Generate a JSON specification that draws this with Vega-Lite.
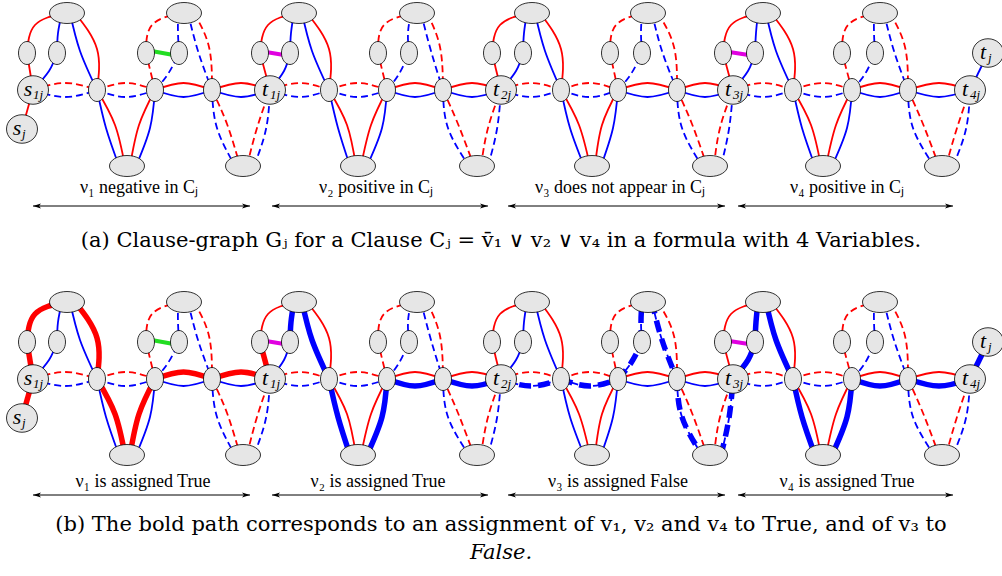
{
"$schema": "https://vega.github.io/schema/vega-lite/v6.json",
"padding": 0,
"spacing": 0,
"background": "white",
"config": {"view": {"stroke": null}},
"datasets": {
"edges": [
{"e":"1-1","c":"r","d":"s","p":1,"o":0,"x":33,"y":89},{"e":"1-1","c":"r","d":"s","p":1,"o":1,"x":27,"y":52},
{"e":"1-2","c":"r","d":"s","p":1,"o":0,"x":27,"y":52},{"e":"1-2","c":"r","d":"s","p":1,"o":1,"x":35,"y":24},{"e":"1-2","c":"r","d":"s","p":1,"o":2,"x":64,"y":12},
{"e":"1-3","c":"b","d":"s","o":0,"x":33,"y":89},{"e":"1-3","c":"b","d":"s","o":1,"x":49,"y":70},{"e":"1-3","c":"b","d":"s","o":2,"x":57,"y":52},
{"e":"1-4","c":"b","d":"s","o":0,"x":57,"y":52},{"e":"1-4","c":"b","d":"s","o":1,"x":58,"y":32},{"e":"1-4","c":"b","d":"s","o":2,"x":62,"y":12},
{"e":"1-5","c":"b","d":"s","o":0,"x":70,"y":12},{"e":"1-5","c":"b","d":"s","o":1,"x":80,"y":50},{"e":"1-5","c":"b","d":"s","o":2,"x":97,"y":89},
{"e":"1-6","c":"r","d":"s","p":1,"o":0,"x":75,"y":12},{"e":"1-6","c":"r","d":"s","p":1,"o":1,"x":97,"y":48},{"e":"1-6","c":"r","d":"s","p":1,"o":2,"x":97,"y":89},
{"e":"1-7","c":"b","d":"s","o":0,"x":97,"y":89},{"e":"1-7","c":"b","d":"s","o":1,"x":106,"y":127},{"e":"1-7","c":"b","d":"s","o":2,"x":119,"y":165},
{"e":"1-8","c":"r","d":"s","p":1,"o":0,"x":97,"y":89},{"e":"1-8","c":"r","d":"s","p":1,"o":1,"x":115,"y":124},{"e":"1-8","c":"r","d":"s","p":1,"o":2,"x":125,"y":165},
{"e":"1-9","c":"r","d":"s","p":1,"o":0,"x":130,"y":165},{"e":"1-9","c":"r","d":"s","p":1,"o":1,"x":139,"y":124},{"e":"1-9","c":"r","d":"s","p":1,"o":2,"x":155,"y":89},
{"e":"1-10","c":"b","d":"s","o":0,"x":136,"y":165},{"e":"1-10","c":"b","d":"s","o":1,"x":150,"y":127},{"e":"1-10","c":"b","d":"s","o":2,"x":155,"y":89},
{"e":"1-11","c":"r","d":"d","o":0,"x":33,"y":89},{"e":"1-11","c":"r","d":"d","o":1,"x":65,"y":82},{"e":"1-11","c":"r","d":"d","o":2,"x":97,"y":89},
{"e":"1-12","c":"b","d":"d","o":0,"x":33,"y":89},{"e":"1-12","c":"b","d":"d","o":1,"x":65,"y":96},{"e":"1-12","c":"b","d":"d","o":2,"x":97,"y":89},
{"e":"1-13","c":"r","d":"d","o":0,"x":97,"y":89},{"e":"1-13","c":"r","d":"d","o":1,"x":126,"y":82},{"e":"1-13","c":"r","d":"d","o":2,"x":155,"y":89},
{"e":"1-14","c":"b","d":"d","o":0,"x":97,"y":89},{"e":"1-14","c":"b","d":"d","o":1,"x":126,"y":96},{"e":"1-14","c":"b","d":"d","o":2,"x":155,"y":89},
{"e":"1-15","c":"r","d":"s","p":1,"o":0,"x":155,"y":89},{"e":"1-15","c":"r","d":"s","p":1,"o":1,"x":183.5,"y":82},{"e":"1-15","c":"r","d":"s","p":1,"o":2,"x":212,"y":89},
{"e":"1-16","c":"b","d":"s","o":0,"x":155,"y":89},{"e":"1-16","c":"b","d":"s","o":1,"x":183.5,"y":96},{"e":"1-16","c":"b","d":"s","o":2,"x":212,"y":89},
{"e":"1-17","c":"r","d":"s","p":1,"o":0,"x":212,"y":89},{"e":"1-17","c":"r","d":"s","p":1,"o":1,"x":241,"y":82},{"e":"1-17","c":"r","d":"s","p":1,"o":2,"x":270,"y":89},
{"e":"1-18","c":"b","d":"s","o":0,"x":212,"y":89},{"e":"1-18","c":"b","d":"s","o":1,"x":241,"y":96},{"e":"1-18","c":"b","d":"s","o":2,"x":270,"y":89},
{"e":"1-19","c":"r","d":"d","o":0,"x":155,"y":89},{"e":"1-19","c":"r","d":"d","o":1,"x":146,"y":52},
{"e":"1-20","c":"r","d":"d","o":0,"x":146,"y":52},{"e":"1-20","c":"r","d":"d","o":1,"x":152,"y":24},{"e":"1-20","c":"r","d":"d","o":2,"x":181,"y":12},
{"e":"1-21","c":"b","d":"d","o":0,"x":155,"y":89},{"e":"1-21","c":"b","d":"d","o":1,"x":168,"y":73},{"e":"1-21","c":"b","d":"d","o":2,"x":179,"y":52},
{"e":"1-22","c":"b","d":"d","o":0,"x":179,"y":52},{"e":"1-22","c":"b","d":"d","o":1,"x":178,"y":32},{"e":"1-22","c":"b","d":"d","o":2,"x":178,"y":12},
{"e":"1-23","c":"b","d":"d","o":0,"x":188,"y":12},{"e":"1-23","c":"b","d":"d","o":1,"x":198,"y":50},{"e":"1-23","c":"b","d":"d","o":2,"x":212,"y":89},
{"e":"1-24","c":"r","d":"d","o":0,"x":194,"y":12},{"e":"1-24","c":"r","d":"d","o":1,"x":209,"y":46},{"e":"1-24","c":"r","d":"d","o":2,"x":212,"y":89},
{"e":"1-25","c":"b","d":"d","o":0,"x":212,"y":89},{"e":"1-25","c":"b","d":"d","o":1,"x":217,"y":127},{"e":"1-25","c":"b","d":"d","o":2,"x":235,"y":165},
{"e":"1-26","c":"r","d":"d","o":0,"x":212,"y":89},{"e":"1-26","c":"r","d":"d","o":1,"x":227,"y":123},{"e":"1-26","c":"r","d":"d","o":2,"x":240,"y":165},
{"e":"1-27","c":"r","d":"d","o":0,"x":247,"y":165},{"e":"1-27","c":"r","d":"d","o":1,"x":257,"y":127},{"e":"1-27","c":"r","d":"d","o":2,"x":270,"y":89},
{"e":"1-28","c":"b","d":"d","o":0,"x":254,"y":165},{"e":"1-28","c":"b","d":"d","o":1,"x":266,"y":128},{"e":"1-28","c":"b","d":"d","o":2,"x":270,"y":89},

{"e":"2-1","c":"r","d":"s","p":1,"o":0,"x":270,"y":89},{"e":"2-1","c":"r","d":"s","p":1,"o":1,"x":260,"y":52},
{"e":"2-2","c":"r","d":"s","o":0,"x":260,"y":52},{"e":"2-2","c":"r","d":"s","o":1,"x":268,"y":24},{"e":"2-2","c":"r","d":"s","o":2,"x":296,"y":12},
{"e":"2-3","c":"b","d":"s","o":0,"x":270,"y":89},{"e":"2-3","c":"b","d":"s","o":1,"x":284,"y":70},{"e":"2-3","c":"b","d":"s","o":2,"x":290,"y":52},
{"e":"2-4","c":"b","d":"s","p":1,"o":0,"x":290,"y":52},{"e":"2-4","c":"b","d":"s","p":1,"o":1,"x":291,"y":32},{"e":"2-4","c":"b","d":"s","p":1,"o":2,"x":294,"y":12},
{"e":"2-5","c":"b","d":"s","p":1,"o":0,"x":302,"y":12},{"e":"2-5","c":"b","d":"s","p":1,"o":1,"x":312,"y":50},{"e":"2-5","c":"b","d":"s","p":1,"o":2,"x":329,"y":89},
{"e":"2-6","c":"r","d":"s","o":0,"x":307,"y":12},{"e":"2-6","c":"r","d":"s","o":1,"x":329,"y":48},{"e":"2-6","c":"r","d":"s","o":2,"x":329,"y":89},
{"e":"2-7","c":"b","d":"s","p":1,"o":0,"x":329,"y":89},{"e":"2-7","c":"b","d":"s","p":1,"o":1,"x":338,"y":127},{"e":"2-7","c":"b","d":"s","p":1,"o":2,"x":350,"y":165},
{"e":"2-8","c":"r","d":"s","o":0,"x":329,"y":89},{"e":"2-8","c":"r","d":"s","o":1,"x":347,"y":124},{"e":"2-8","c":"r","d":"s","o":2,"x":356,"y":165},
{"e":"2-9","c":"r","d":"s","o":0,"x":361,"y":165},{"e":"2-9","c":"r","d":"s","o":1,"x":371,"y":124},{"e":"2-9","c":"r","d":"s","o":2,"x":387,"y":89},
{"e":"2-10","c":"b","d":"s","p":1,"o":0,"x":367,"y":165},{"e":"2-10","c":"b","d":"s","p":1,"o":1,"x":382,"y":127},{"e":"2-10","c":"b","d":"s","p":1,"o":2,"x":387,"y":89},
{"e":"2-11","c":"r","d":"d","o":0,"x":270,"y":89},{"e":"2-11","c":"r","d":"d","o":1,"x":299.5,"y":82},{"e":"2-11","c":"r","d":"d","o":2,"x":329,"y":89},
{"e":"2-12","c":"b","d":"d","o":0,"x":270,"y":89},{"e":"2-12","c":"b","d":"d","o":1,"x":299.5,"y":96},{"e":"2-12","c":"b","d":"d","o":2,"x":329,"y":89},
{"e":"2-13","c":"r","d":"d","o":0,"x":329,"y":89},{"e":"2-13","c":"r","d":"d","o":1,"x":358,"y":82},{"e":"2-13","c":"r","d":"d","o":2,"x":387,"y":89},
{"e":"2-14","c":"b","d":"d","o":0,"x":329,"y":89},{"e":"2-14","c":"b","d":"d","o":1,"x":358,"y":96},{"e":"2-14","c":"b","d":"d","o":2,"x":387,"y":89},
{"e":"2-15","c":"r","d":"s","o":0,"x":387,"y":89},{"e":"2-15","c":"r","d":"s","o":1,"x":415,"y":82},{"e":"2-15","c":"r","d":"s","o":2,"x":443,"y":89},
{"e":"2-16","c":"b","d":"s","p":1,"o":0,"x":387,"y":89},{"e":"2-16","c":"b","d":"s","p":1,"o":1,"x":415,"y":96},{"e":"2-16","c":"b","d":"s","p":1,"o":2,"x":443,"y":89},
{"e":"2-17","c":"r","d":"s","o":0,"x":443,"y":89},{"e":"2-17","c":"r","d":"s","o":1,"x":472,"y":82},{"e":"2-17","c":"r","d":"s","o":2,"x":501,"y":89},
{"e":"2-18","c":"b","d":"s","p":1,"o":0,"x":443,"y":89},{"e":"2-18","c":"b","d":"s","p":1,"o":1,"x":472,"y":96},{"e":"2-18","c":"b","d":"s","p":1,"o":2,"x":501,"y":89},
{"e":"2-19","c":"r","d":"d","o":0,"x":387,"y":89},{"e":"2-19","c":"r","d":"d","o":1,"x":378,"y":52},
{"e":"2-20","c":"r","d":"d","o":0,"x":378,"y":52},{"e":"2-20","c":"r","d":"d","o":1,"x":384,"y":24},{"e":"2-20","c":"r","d":"d","o":2,"x":414,"y":12},
{"e":"2-21","c":"b","d":"d","o":0,"x":387,"y":89},{"e":"2-21","c":"b","d":"d","o":1,"x":399,"y":73},{"e":"2-21","c":"b","d":"d","o":2,"x":409,"y":52},
{"e":"2-22","c":"b","d":"d","o":0,"x":409,"y":52},{"e":"2-22","c":"b","d":"d","o":1,"x":408,"y":32},{"e":"2-22","c":"b","d":"d","o":2,"x":411,"y":12},
{"e":"2-23","c":"b","d":"d","o":0,"x":421,"y":12},{"e":"2-23","c":"b","d":"d","o":1,"x":431,"y":50},{"e":"2-23","c":"b","d":"d","o":2,"x":443,"y":89},
{"e":"2-24","c":"r","d":"d","o":0,"x":427,"y":12},{"e":"2-24","c":"r","d":"d","o":1,"x":440,"y":46},{"e":"2-24","c":"r","d":"d","o":2,"x":443,"y":89},
{"e":"2-25","c":"b","d":"d","o":0,"x":443,"y":89},{"e":"2-25","c":"b","d":"d","o":1,"x":448,"y":127},{"e":"2-25","c":"b","d":"d","o":2,"x":469,"y":165},
{"e":"2-26","c":"r","d":"d","o":0,"x":443,"y":89},{"e":"2-26","c":"r","d":"d","o":1,"x":458,"y":123},{"e":"2-26","c":"r","d":"d","o":2,"x":474,"y":165},
{"e":"2-27","c":"r","d":"d","o":0,"x":481,"y":165},{"e":"2-27","c":"r","d":"d","o":1,"x":488,"y":127},{"e":"2-27","c":"r","d":"d","o":2,"x":501,"y":89},
{"e":"2-28","c":"b","d":"d","o":0,"x":488,"y":165},{"e":"2-28","c":"b","d":"d","o":1,"x":497,"y":128},{"e":"2-28","c":"b","d":"d","o":2,"x":501,"y":89},

{"e":"3-1","c":"r","d":"s","o":0,"x":501,"y":89},{"e":"3-1","c":"r","d":"s","o":1,"x":492,"y":52},
{"e":"3-2","c":"r","d":"s","o":0,"x":492,"y":52},{"e":"3-2","c":"r","d":"s","o":1,"x":500,"y":24},{"e":"3-2","c":"r","d":"s","o":2,"x":529,"y":12},
{"e":"3-3","c":"b","d":"s","o":0,"x":501,"y":89},{"e":"3-3","c":"b","d":"s","o":1,"x":516,"y":70},{"e":"3-3","c":"b","d":"s","o":2,"x":523,"y":52},
{"e":"3-4","c":"b","d":"s","o":0,"x":523,"y":52},{"e":"3-4","c":"b","d":"s","o":1,"x":524,"y":32},{"e":"3-4","c":"b","d":"s","o":2,"x":527,"y":12},
{"e":"3-5","c":"b","d":"s","o":0,"x":535,"y":12},{"e":"3-5","c":"b","d":"s","o":1,"x":545,"y":50},{"e":"3-5","c":"b","d":"s","o":2,"x":561,"y":89},
{"e":"3-6","c":"r","d":"s","o":0,"x":540,"y":12},{"e":"3-6","c":"r","d":"s","o":1,"x":561,"y":48},{"e":"3-6","c":"r","d":"s","o":2,"x":561,"y":89},
{"e":"3-7","c":"b","d":"s","o":0,"x":561,"y":89},{"e":"3-7","c":"b","d":"s","o":1,"x":570,"y":127},{"e":"3-7","c":"b","d":"s","o":2,"x":584,"y":165},
{"e":"3-8","c":"r","d":"s","o":0,"x":561,"y":89},{"e":"3-8","c":"r","d":"s","o":1,"x":579,"y":124},{"e":"3-8","c":"r","d":"s","o":2,"x":590,"y":165},
{"e":"3-9","c":"r","d":"s","o":0,"x":595,"y":165},{"e":"3-9","c":"r","d":"s","o":1,"x":602,"y":124},{"e":"3-9","c":"r","d":"s","o":2,"x":618,"y":89},
{"e":"3-10","c":"b","d":"s","o":0,"x":601,"y":165},{"e":"3-10","c":"b","d":"s","o":1,"x":613,"y":127},{"e":"3-10","c":"b","d":"s","o":2,"x":618,"y":89},
{"e":"3-11","c":"r","d":"d","o":0,"x":501,"y":89},{"e":"3-11","c":"r","d":"d","o":1,"x":531,"y":82},{"e":"3-11","c":"r","d":"d","o":2,"x":561,"y":89},
{"e":"3-12","c":"b","d":"d","p":1,"o":0,"x":501,"y":89},{"e":"3-12","c":"b","d":"d","p":1,"o":1,"x":531,"y":96},{"e":"3-12","c":"b","d":"d","p":1,"o":2,"x":561,"y":89},
{"e":"3-13","c":"r","d":"d","o":0,"x":561,"y":89},{"e":"3-13","c":"r","d":"d","o":1,"x":589.5,"y":82},{"e":"3-13","c":"r","d":"d","o":2,"x":618,"y":89},
{"e":"3-14","c":"b","d":"d","p":1,"o":0,"x":561,"y":89},{"e":"3-14","c":"b","d":"d","p":1,"o":1,"x":589.5,"y":96},{"e":"3-14","c":"b","d":"d","p":1,"o":2,"x":618,"y":89},
{"e":"3-15","c":"r","d":"s","o":0,"x":618,"y":89},{"e":"3-15","c":"r","d":"s","o":1,"x":647.5,"y":82},{"e":"3-15","c":"r","d":"s","o":2,"x":677,"y":89},
{"e":"3-16","c":"b","d":"s","o":0,"x":618,"y":89},{"e":"3-16","c":"b","d":"s","o":1,"x":647.5,"y":96},{"e":"3-16","c":"b","d":"s","o":2,"x":677,"y":89},
{"e":"3-17","c":"r","d":"s","o":0,"x":677,"y":89},{"e":"3-17","c":"r","d":"s","o":1,"x":705,"y":82},{"e":"3-17","c":"r","d":"s","o":2,"x":733,"y":89},
{"e":"3-18","c":"b","d":"s","o":0,"x":677,"y":89},{"e":"3-18","c":"b","d":"s","o":1,"x":705,"y":96},{"e":"3-18","c":"b","d":"s","o":2,"x":733,"y":89},
{"e":"3-19","c":"r","d":"d","o":0,"x":618,"y":89},{"e":"3-19","c":"r","d":"d","o":1,"x":610,"y":52},
{"e":"3-20","c":"r","d":"d","o":0,"x":610,"y":52},{"e":"3-20","c":"r","d":"d","o":1,"x":616,"y":24},{"e":"3-20","c":"r","d":"d","o":2,"x":645,"y":12},
{"e":"3-21","c":"b","d":"d","p":1,"o":0,"x":618,"y":89},{"e":"3-21","c":"b","d":"d","p":1,"o":1,"x":631,"y":73},{"e":"3-21","c":"b","d":"d","p":1,"o":2,"x":642,"y":52},
{"e":"3-22","c":"b","d":"d","p":1,"o":0,"x":642,"y":52},{"e":"3-22","c":"b","d":"d","p":1,"o":1,"x":641,"y":32},{"e":"3-22","c":"b","d":"d","p":1,"o":2,"x":642,"y":12},
{"e":"3-23","c":"b","d":"d","p":1,"o":0,"x":652,"y":12},{"e":"3-23","c":"b","d":"d","p":1,"o":1,"x":662,"y":50},{"e":"3-23","c":"b","d":"d","p":1,"o":2,"x":677,"y":89},
{"e":"3-24","c":"r","d":"d","o":0,"x":658,"y":12},{"e":"3-24","c":"r","d":"d","o":1,"x":674,"y":46},{"e":"3-24","c":"r","d":"d","o":2,"x":677,"y":89},
{"e":"3-25","c":"b","d":"d","p":1,"o":0,"x":677,"y":89},{"e":"3-25","c":"b","d":"d","p":1,"o":1,"x":682,"y":127},{"e":"3-25","c":"b","d":"d","p":1,"o":2,"x":702,"y":165},
{"e":"3-26","c":"r","d":"d","o":0,"x":677,"y":89},{"e":"3-26","c":"r","d":"d","o":1,"x":692,"y":123},{"e":"3-26","c":"r","d":"d","o":2,"x":707,"y":165},
{"e":"3-27","c":"r","d":"d","o":0,"x":714,"y":165},{"e":"3-27","c":"r","d":"d","o":1,"x":720,"y":127},{"e":"3-27","c":"r","d":"d","o":2,"x":733,"y":89},
{"e":"3-28","c":"b","d":"d","p":1,"o":0,"x":721,"y":165},{"e":"3-28","c":"b","d":"d","p":1,"o":1,"x":729,"y":128},{"e":"3-28","c":"b","d":"d","p":1,"o":2,"x":733,"y":89},

{"e":"4-1","c":"r","d":"s","o":0,"x":733,"y":89},{"e":"4-1","c":"r","d":"s","o":1,"x":723,"y":52},
{"e":"4-2","c":"r","d":"s","o":0,"x":723,"y":52},{"e":"4-2","c":"r","d":"s","o":1,"x":731,"y":24},{"e":"4-2","c":"r","d":"s","o":2,"x":760,"y":12},
{"e":"4-3","c":"b","d":"s","p":1,"o":0,"x":733,"y":89},{"e":"4-3","c":"b","d":"s","p":1,"o":1,"x":748,"y":70},{"e":"4-3","c":"b","d":"s","p":1,"o":2,"x":755,"y":52},
{"e":"4-4","c":"b","d":"s","p":1,"o":0,"x":755,"y":52},{"e":"4-4","c":"b","d":"s","p":1,"o":1,"x":756,"y":32},{"e":"4-4","c":"b","d":"s","p":1,"o":2,"x":758,"y":12},
{"e":"4-5","c":"b","d":"s","p":1,"o":0,"x":766,"y":12},{"e":"4-5","c":"b","d":"s","p":1,"o":1,"x":776,"y":50},{"e":"4-5","c":"b","d":"s","p":1,"o":2,"x":793,"y":89},
{"e":"4-6","c":"r","d":"s","o":0,"x":771,"y":12},{"e":"4-6","c":"r","d":"s","o":1,"x":793,"y":48},{"e":"4-6","c":"r","d":"s","o":2,"x":793,"y":89},
{"e":"4-7","c":"b","d":"s","p":1,"o":0,"x":793,"y":89},{"e":"4-7","c":"b","d":"s","p":1,"o":1,"x":802,"y":127},{"e":"4-7","c":"b","d":"s","p":1,"o":2,"x":815,"y":165},
{"e":"4-8","c":"r","d":"s","o":0,"x":793,"y":89},{"e":"4-8","c":"r","d":"s","o":1,"x":811,"y":124},{"e":"4-8","c":"r","d":"s","o":2,"x":821,"y":165},
{"e":"4-9","c":"r","d":"s","o":0,"x":826,"y":165},{"e":"4-9","c":"r","d":"s","o":1,"x":836,"y":124},{"e":"4-9","c":"r","d":"s","o":2,"x":852,"y":89},
{"e":"4-10","c":"b","d":"s","p":1,"o":0,"x":832,"y":165},{"e":"4-10","c":"b","d":"s","p":1,"o":1,"x":847,"y":127},{"e":"4-10","c":"b","d":"s","p":1,"o":2,"x":852,"y":89},
{"e":"4-11","c":"r","d":"d","o":0,"x":733,"y":89},{"e":"4-11","c":"r","d":"d","o":1,"x":763,"y":82},{"e":"4-11","c":"r","d":"d","o":2,"x":793,"y":89},
{"e":"4-12","c":"b","d":"d","o":0,"x":733,"y":89},{"e":"4-12","c":"b","d":"d","o":1,"x":763,"y":96},{"e":"4-12","c":"b","d":"d","o":2,"x":793,"y":89},
{"e":"4-13","c":"r","d":"d","o":0,"x":793,"y":89},{"e":"4-13","c":"r","d":"d","o":1,"x":822.5,"y":82},{"e":"4-13","c":"r","d":"d","o":2,"x":852,"y":89},
{"e":"4-14","c":"b","d":"d","o":0,"x":793,"y":89},{"e":"4-14","c":"b","d":"d","o":1,"x":822.5,"y":96},{"e":"4-14","c":"b","d":"d","o":2,"x":852,"y":89},
{"e":"4-15","c":"r","d":"s","o":0,"x":852,"y":89},{"e":"4-15","c":"r","d":"s","o":1,"x":880,"y":82},{"e":"4-15","c":"r","d":"s","o":2,"x":908,"y":89},
{"e":"4-16","c":"b","d":"s","p":1,"o":0,"x":852,"y":89},{"e":"4-16","c":"b","d":"s","p":1,"o":1,"x":880,"y":96},{"e":"4-16","c":"b","d":"s","p":1,"o":2,"x":908,"y":89},
{"e":"4-17","c":"r","d":"s","o":0,"x":908,"y":89},{"e":"4-17","c":"r","d":"s","o":1,"x":939,"y":82},{"e":"4-17","c":"r","d":"s","o":2,"x":970,"y":89},
{"e":"4-18","c":"b","d":"s","p":1,"o":0,"x":908,"y":89},{"e":"4-18","c":"b","d":"s","p":1,"o":1,"x":939,"y":96},{"e":"4-18","c":"b","d":"s","p":1,"o":2,"x":970,"y":89},
{"e":"4-19","c":"r","d":"d","o":0,"x":852,"y":89},{"e":"4-19","c":"r","d":"d","o":1,"x":842,"y":52},
{"e":"4-20","c":"r","d":"d","o":0,"x":842,"y":52},{"e":"4-20","c":"r","d":"d","o":1,"x":848,"y":24},{"e":"4-20","c":"r","d":"d","o":2,"x":877,"y":12},
{"e":"4-21","c":"b","d":"d","o":0,"x":852,"y":89},{"e":"4-21","c":"b","d":"d","o":1,"x":865,"y":73},{"e":"4-21","c":"b","d":"d","o":2,"x":875,"y":52},
{"e":"4-22","c":"b","d":"d","o":0,"x":875,"y":52},{"e":"4-22","c":"b","d":"d","o":1,"x":874,"y":32},{"e":"4-22","c":"b","d":"d","o":2,"x":874,"y":12},
{"e":"4-23","c":"b","d":"d","o":0,"x":884,"y":12},{"e":"4-23","c":"b","d":"d","o":1,"x":894,"y":50},{"e":"4-23","c":"b","d":"d","o":2,"x":908,"y":89},
{"e":"4-24","c":"r","d":"d","o":0,"x":890,"y":12},{"e":"4-24","c":"r","d":"d","o":1,"x":905,"y":46},{"e":"4-24","c":"r","d":"d","o":2,"x":908,"y":89},
{"e":"4-25","c":"b","d":"d","o":0,"x":908,"y":89},{"e":"4-25","c":"b","d":"d","o":1,"x":913,"y":127},{"e":"4-25","c":"b","d":"d","o":2,"x":934,"y":165},
{"e":"4-26","c":"r","d":"d","o":0,"x":908,"y":89},{"e":"4-26","c":"r","d":"d","o":1,"x":923,"y":123},{"e":"4-26","c":"r","d":"d","o":2,"x":939,"y":165},
{"e":"4-27","c":"r","d":"d","o":0,"x":946,"y":165},{"e":"4-27","c":"r","d":"d","o":1,"x":957,"y":127},{"e":"4-27","c":"r","d":"d","o":2,"x":970,"y":89},
{"e":"4-28","c":"b","d":"d","o":0,"x":953,"y":165},{"e":"4-28","c":"b","d":"d","o":1,"x":966,"y":128},{"e":"4-28","c":"b","d":"d","o":2,"x":970,"y":89},
{"e":"sj","c":"r","d":"s","p":1,"o":0,"x":22,"y":128},{"e":"sj","c":"r","d":"s","p":1,"o":1,"x":33,"y":89},
{"e":"tj","c":"b","d":"s","p":1,"o":0,"x":970,"y":89},{"e":"tj","c":"b","d":"s","p":1,"o":1,"x":988,"y":52}
],
"links": [
{"e":"g","c":"g","o":0,"x":146,"y":49},{"e":"g","c":"g","o":1,"x":179,"y":55},
{"e":"m2","c":"m","o":0,"x":260,"y":50},{"e":"m2","c":"m","o":1,"x":290,"y":55},
{"e":"m4","c":"m","o":0,"x":723,"y":50},{"e":"m4","c":"m","o":1,"x":755,"y":55}
],
"nodes": [
{"k":"small","x":27,"y":52},{"k":"small","x":57,"y":52},{"k":"big","x":67,"y":12},{"k":"small","x":97,"y":89},{"k":"big","x":127,"y":165},{"k":"small","x":155,"y":89},{"k":"small","x":146,"y":52},{"k":"small","x":179,"y":52},{"k":"big","x":184,"y":12},{"k":"small","x":212,"y":89},{"k":"big","x":243,"y":165},
{"k":"small","x":260,"y":52},{"k":"small","x":290,"y":52},{"k":"big","x":299,"y":12},{"k":"small","x":329,"y":89},{"k":"big","x":358,"y":165},{"k":"small","x":387,"y":89},{"k":"small","x":378,"y":52},{"k":"small","x":409,"y":52},{"k":"big","x":417,"y":12},{"k":"small","x":443,"y":89},{"k":"big","x":477,"y":165},
{"k":"small","x":492,"y":52},{"k":"small","x":523,"y":52},{"k":"big","x":532,"y":12},{"k":"small","x":561,"y":89},{"k":"big","x":592,"y":165},{"k":"small","x":618,"y":89},{"k":"small","x":610,"y":52},{"k":"small","x":642,"y":52},{"k":"big","x":648,"y":12},{"k":"small","x":677,"y":89},{"k":"big","x":710,"y":165},
{"k":"small","x":723,"y":52},{"k":"small","x":755,"y":52},{"k":"big","x":763,"y":12},{"k":"small","x":793,"y":89},{"k":"big","x":823,"y":165},{"k":"small","x":852,"y":89},{"k":"small","x":842,"y":52},{"k":"small","x":875,"y":52},{"k":"big","x":880,"y":12},{"k":"small","x":908,"y":89},{"k":"big","x":942,"y":165},
{"k":"term","x":33,"y":89,"l":"s","s":"1j"},{"k":"term","x":270,"y":89,"l":"t","s":"1j"},{"k":"term","x":501,"y":89,"l":"t","s":"2j"},{"k":"term","x":733,"y":89,"l":"t","s":"3j"},{"k":"term","x":970,"y":89,"l":"t","s":"4j"},{"k":"term","x":22,"y":128,"l":"s","s":"j"},{"k":"term","x":988,"y":52,"l":"t","s":"j"}
],
"arrows": [
{"x":33,"x2":250,"y":205},{"x":272,"x2":488,"y":205},{"x":508,"x2":725,"y":205},{"x":738,"x2":953,"y":205}
],
"labA": [
{"x":139,"y":192,"t":"ν₁ negative in Cⱼ"},{"x":376,"y":192,"t":"ν₂ positive in Cⱼ"},{"x":620,"y":192,"t":"ν₃ does not appear in Cⱼ"},{"x":847,"y":192,"t":"ν₄ positive in Cⱼ"},
{"x":501,"y":246,"t":"(a) Clause-graph Gⱼ for a Clause Cⱼ = v̄₁ ∨ v₂ ∨ v₄ in a formula with 4 Variables.","cap":1}
],
"labB": [
{"x":143,"y":197,"t":"ν₁  is assigned True"},{"x":378,"y":197,"t":"ν₂  is assigned True"},{"x":618,"y":197,"t":"ν₃  is assigned False"},{"x":847,"y":197,"t":"ν₄ is assigned True"},
{"x":501,"y":241,"t":"(b) The bold path corresponds to an assignment of v₁, v₂ and v₄ to True, and of v₃ to","cap":1},
{"x":501,"y":269,"t":"False.","cap":2}
]
},
"vconcat": [
{
"width": 1002, "height": 288,
"encoding": {
 "x": {"field":"x","type":"quantitative","scale":{"domain":[0,1002],"nice":false,"zero":false},"axis":null},
 "y": {"field":"y","type":"quantitative","scale":{"domain":[0,288],"nice":false,"zero":false,"reverse":true},"axis":null}
},
"layer": [
{"data":{"name":"edges"},"transform":[{"filter":"datum.d == 's'"}],"mark":{"type":"line","interpolate":"natural","strokeWidth":1.8},
 "encoding":{"detail":{"field":"e"},"order":{"field":"o","type":"quantitative"},"color":{"field":"c","type":"nominal","scale":{"domain":["r","b","g","m"],"range":["#ff0000","#0000ff","#22dd22","#e000e0"]},"legend":null}}},
{"data":{"name":"edges"},"transform":[{"filter":"datum.d == 'd'"}],"mark":{"type":"line","interpolate":"natural","strokeWidth":1.8,"strokeDash":[7,4]},
 "encoding":{"detail":{"field":"e"},"order":{"field":"o","type":"quantitative"},"color":{"field":"c","type":"nominal","scale":{"domain":["r","b","g","m"],"range":["#ff0000","#0000ff","#22dd22","#e000e0"]},"legend":null}}},
{"data":{"name":"links"},"mark":{"type":"line","strokeWidth":4},
 "encoding":{"detail":{"field":"e"},"order":{"field":"o","type":"quantitative"},"color":{"field":"c","type":"nominal","scale":{"domain":["r","b","g","m"],"range":["#ff0000","#0000ff","#22dd22","#e000e0"]},"legend":null}}},
{"data":{"name":"nodes"},"transform":[{"filter":"datum.k == 'big'"}],"mark":{"type":"point","shape":"M-1,0C-1,-0.331 -0.552,-0.6 0,-0.6C0.552,-0.6 1,-0.331 1,0C1,0.331 0.552,0.6 0,0.6C-0.552,0.6 -1,0.331 -1,0Z","size":1225,"filled":true,"fill":"#e6e6e6","stroke":"#000","strokeWidth":0.8,"opacity":1}},
{"data":{"name":"nodes"},"transform":[{"filter":"datum.k == 'small'"}],"mark":{"type":"point","shape":"M-0.74,0C-0.74,-0.552 -0.408,-1 0,-1C0.408,-1 0.74,-0.552 0.74,0C0.74,0.552 0.408,1 0,1C-0.408,1 -0.74,0.552 -0.74,0Z","size":529,"filled":true,"fill":"#e6e6e6","stroke":"#000","strokeWidth":0.8,"opacity":1}},
{"data":{"name":"nodes"},"transform":[{"filter":"datum.k == 'term'"}],"mark":{"type":"point","shape":"M-1,0C-1,-0.508 -0.552,-0.92 0,-0.92C0.552,-0.92 1,-0.508 1,0C1,0.508 0.552,0.92 0,0.92C-0.552,0.92 -1,0.508 -1,0Z","size":961,"filled":true,"fill":"#e6e6e6","stroke":"#000","strokeWidth":0.8,"opacity":1}},
{"data":{"name":"nodes"},"transform":[{"filter":"datum.k == 'term'"}],"mark":{"type":"text","font":"Liberation Serif","fontStyle":"italic","fontSize":22,"dx":-5,"dy":6,"align":"center","baseline":"alphabetic","color":"#000"},"encoding":{"text":{"field":"l"}}},
{"data":{"name":"nodes"},"transform":[{"filter":"datum.k == 'term'"}],"mark":{"type":"text","font":"Liberation Serif","fontStyle":"italic","fontSize":13,"dx":0,"dy":9,"align":"left","baseline":"alphabetic","color":"#000"},"encoding":{"text":{"field":"s"}}},
{"data":{"name":"arrows"},"mark":{"type":"rule","color":"#000","strokeWidth":1},"encoding":{"x2":{"field":"x2"}}},
{"data":{"name":"arrows"},"mark":{"type":"point","shape":"M0,0L2,-0.6L1.5,0L2,0.6Z","size":64,"filled":true,"color":"#000","opacity":1}},
{"data":{"name":"arrows"},"mark":{"type":"point","shape":"M0,0L-2,-0.6L-1.5,0L-2,0.6Z","size":64,"filled":true,"color":"#000","opacity":1},"encoding":{"x":{"field":"x2","type":"quantitative"}}},
{"data":{"name":"labA"},"transform":[{"filter":"!datum.cap"}],"mark":{"type":"text","font":"Liberation Serif","fontSize":18,"align":"center","baseline":"alphabetic","color":"#000"},"encoding":{"text":{"field":"t"}}},
{"data":{"name":"labA"},"transform":[{"filter":"datum.cap == 1"}],"mark":{"type":"text","font":"DejaVu Serif","fontSize":21,"align":"center","baseline":"alphabetic","color":"#000"},"encoding":{"text":{"field":"t"}}}
]
},
{
"width": 1002, "height": 288,
"encoding": {
 "x": {"field":"x","type":"quantitative","scale":{"domain":[0,1002],"nice":false,"zero":false},"axis":null},
 "y": {"field":"y","type":"quantitative","scale":{"domain":[0,288],"nice":false,"zero":false,"reverse":true},"axis":null}
},
"layer": [
{"data":{"name":"edges"},"transform":[{"filter":"datum.d == 's'"}],"mark":{"type":"line","interpolate":"natural","strokeWidth":1.8},
 "encoding":{"detail":{"field":"e"},"order":{"field":"o","type":"quantitative"},"color":{"field":"c","type":"nominal","scale":{"domain":["r","b","g","m"],"range":["#ff0000","#0000ff","#22dd22","#e000e0"]},"legend":null}}},
{"data":{"name":"edges"},"transform":[{"filter":"datum.d == 'd'"}],"mark":{"type":"line","interpolate":"natural","strokeWidth":1.8,"strokeDash":[7,4]},
 "encoding":{"detail":{"field":"e"},"order":{"field":"o","type":"quantitative"},"color":{"field":"c","type":"nominal","scale":{"domain":["r","b","g","m"],"range":["#ff0000","#0000ff","#22dd22","#e000e0"]},"legend":null}}},
{"data":{"name":"links"},"mark":{"type":"line","strokeWidth":4},
 "encoding":{"detail":{"field":"e"},"order":{"field":"o","type":"quantitative"},"color":{"field":"c","type":"nominal","scale":{"domain":["r","b","g","m"],"range":["#ff0000","#0000ff","#22dd22","#e000e0"]},"legend":null}}},
{"data":{"name":"edges"},"transform":[{"filter":"datum.p == 1 && datum.d == 's'"}],"mark":{"type":"line","interpolate":"natural","strokeWidth":5.5},
 "encoding":{"detail":{"field":"e"},"order":{"field":"o","type":"quantitative"},"color":{"field":"c","type":"nominal","scale":{"domain":["r","b","g","m"],"range":["#ff0000","#0000ff","#22dd22","#e000e0"]},"legend":null}}},
{"data":{"name":"edges"},"transform":[{"filter":"datum.p == 1 && datum.d == 'd'"}],"mark":{"type":"line","interpolate":"natural","strokeWidth":5.5,"strokeDash":[12,7]},
 "encoding":{"detail":{"field":"e"},"order":{"field":"o","type":"quantitative"},"color":{"field":"c","type":"nominal","scale":{"domain":["r","b","g","m"],"range":["#ff0000","#0000ff","#22dd22","#e000e0"]},"legend":null}}},
{"data":{"name":"nodes"},"transform":[{"filter":"datum.k == 'big'"}],"mark":{"type":"point","shape":"M-1,0C-1,-0.331 -0.552,-0.6 0,-0.6C0.552,-0.6 1,-0.331 1,0C1,0.331 0.552,0.6 0,0.6C-0.552,0.6 -1,0.331 -1,0Z","size":1225,"filled":true,"fill":"#e6e6e6","stroke":"#000","strokeWidth":0.8,"opacity":1}},
{"data":{"name":"nodes"},"transform":[{"filter":"datum.k == 'small'"}],"mark":{"type":"point","shape":"M-0.74,0C-0.74,-0.552 -0.408,-1 0,-1C0.408,-1 0.74,-0.552 0.74,0C0.74,0.552 0.408,1 0,1C-0.408,1 -0.74,0.552 -0.74,0Z","size":529,"filled":true,"fill":"#e6e6e6","stroke":"#000","strokeWidth":0.8,"opacity":1}},
{"data":{"name":"nodes"},"transform":[{"filter":"datum.k == 'term'"}],"mark":{"type":"point","shape":"M-1,0C-1,-0.508 -0.552,-0.92 0,-0.92C0.552,-0.92 1,-0.508 1,0C1,0.508 0.552,0.92 0,0.92C-0.552,0.92 -1,0.508 -1,0Z","size":961,"filled":true,"fill":"#e6e6e6","stroke":"#000","strokeWidth":0.8,"opacity":1}},
{"data":{"name":"nodes"},"transform":[{"filter":"datum.k == 'term'"}],"mark":{"type":"text","font":"Liberation Serif","fontStyle":"italic","fontSize":22,"dx":-5,"dy":6,"align":"center","baseline":"alphabetic","color":"#000"},"encoding":{"text":{"field":"l"}}},
{"data":{"name":"nodes"},"transform":[{"filter":"datum.k == 'term'"}],"mark":{"type":"text","font":"Liberation Serif","fontStyle":"italic","fontSize":13,"dx":0,"dy":9,"align":"left","baseline":"alphabetic","color":"#000"},"encoding":{"text":{"field":"s"}}},
{"data":{"name":"arrows"},"mark":{"type":"rule","color":"#000","strokeWidth":1},"encoding":{"x2":{"field":"x2"}}},
{"data":{"name":"arrows"},"mark":{"type":"point","shape":"M0,0L2,-0.6L1.5,0L2,0.6Z","size":64,"filled":true,"color":"#000","opacity":1}},
{"data":{"name":"arrows"},"mark":{"type":"point","shape":"M0,0L-2,-0.6L-1.5,0L-2,0.6Z","size":64,"filled":true,"color":"#000","opacity":1},"encoding":{"x":{"field":"x2","type":"quantitative"}}},
{"data":{"name":"labB"},"transform":[{"filter":"!datum.cap"}],"mark":{"type":"text","font":"Liberation Serif","fontSize":18,"align":"center","baseline":"alphabetic","color":"#000"},"encoding":{"text":{"field":"t"}}},
{"data":{"name":"labB"},"transform":[{"filter":"datum.cap == 1"}],"mark":{"type":"text","font":"DejaVu Serif","fontSize":21,"align":"center","baseline":"alphabetic","color":"#000"},"encoding":{"text":{"field":"t"}}},
{"data":{"name":"labB"},"transform":[{"filter":"datum.cap == 2"}],"mark":{"type":"text","font":"DejaVu Serif","fontStyle":"italic","fontSize":21,"align":"center","baseline":"alphabetic","color":"#000"},"encoding":{"text":{"field":"t"}}}
]
}
]
}
